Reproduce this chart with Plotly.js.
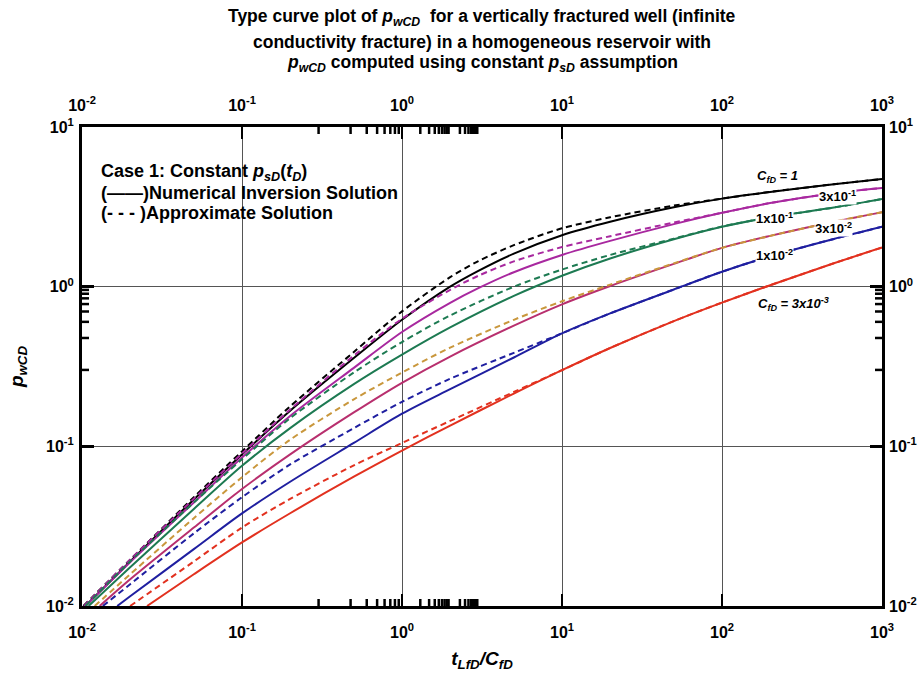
<!DOCTYPE html>
<html>
<head>
<meta charset="utf-8">
<script src="https://cdn.plot.ly/plotly-3.0.1.min.js"></script>
<style>html,body{margin:0;padding:0;background:#fff;}#chart{width:923px;height:675px;}</style>
</head>
<body>
<div id="chart"></div>
<script>
// ---- data ----
const titleLines = [
  'Type curve plot of <i>p<sub>wCD</sub></i>  for a vertically fractured well (infinite',
  'conductivity fracture) in a homogeneous reservoir with',
  '<i>p<sub>wCD</sub></i> computed using constant <i>p<sub>sD</sub></i> assumption'
];
const tickVals = [0.01, 0.1, 1, 10, 100, 1000];
const tickText = ['10<sup>-2</sup>', '10<sup>-1</sup>', '10<sup>0</sup>', '10<sup>1</sup>', '10<sup>2</sup>', '10<sup>3</sup>'];
const yTickVals = [0.01, 0.1, 1, 10];
const yTickText = ['10<sup>-2</sup>', '10<sup>-1</sup>', '10<sup>0</sup>', '10<sup>1</sup>'];

const curveNames = ['C_fD = 1', 'C_fD = 3x10^-1', 'C_fD = 1x10^-1', 'C_fD = 3x10^-2', 'C_fD = 1x10^-2', 'C_fD = 3x10^-3'];

// numerical inversion solution (solid)
const tC1S    = [0.0105, 0.02, 0.05, 0.1, 0.2, 0.5, 1, 2, 3, 5, 10, 20, 50, 100, 200, 500, 1000];
const pC1S    = [0.01, 0.019, 0.0465, 0.089, 0.167, 0.357, 0.62, 1.0, 1.256, 1.61, 2.1, 2.55, 3.14, 3.56, 3.92, 4.38, 4.72];
const tC03S   = [0.0105, 0.02, 0.05, 0.1, 0.2, 0.5, 1, 2, 3, 5, 10, 20, 50, 100, 200, 500, 1000];
const pC03S   = [0.01, 0.0188, 0.0445, 0.085, 0.155, 0.31, 0.52, 0.792, 0.978, 1.232, 1.58, 1.935, 2.465, 2.9, 3.34, 3.85, 4.15];
const tC01S   = [0.011, 0.02, 0.05, 0.1, 0.2, 0.5, 1, 2, 5, 10, 20, 50, 100, 200, 500, 1000];
const pC01S   = [0.01, 0.0175, 0.0405, 0.0755, 0.13, 0.245, 0.375, 0.555, 0.875, 1.17, 1.5, 1.98, 2.37, 2.72, 3.13, 3.54];
const tC003S  = [0.0129, 0.02, 0.05, 0.1, 0.2, 0.5, 1, 2, 5, 10, 20, 50, 100, 200, 500, 1000];
const pC003S  = [0.01, 0.0147, 0.031, 0.054, 0.089, 0.163, 0.25, 0.365, 0.57, 0.775, 1.01, 1.39, 1.75, 2.08, 2.55, 2.93];
const tC001S  = [0.0166, 0.02, 0.05, 0.1, 0.2, 0.5, 1, 2, 5, 10, 20, 50, 100, 200, 500, 1000];
const pC001S  = [0.01, 0.0115, 0.0227, 0.038, 0.06, 0.105, 0.16, 0.228, 0.36, 0.51, 0.68, 0.96, 1.24, 1.55, 1.99, 2.37];
const tC0003S = [0.0255, 0.05, 0.1, 0.2, 0.5, 1, 2, 5, 10, 20, 50, 100, 200, 500, 1000];
const pC0003S = [0.01, 0.0158, 0.025, 0.0381, 0.0645, 0.094, 0.135, 0.214, 0.30, 0.413, 0.609, 0.795, 1.021, 1.401, 1.759];

// approximate solution (dashed)
const tC1D    = [0.0102, 0.02, 0.05, 0.1, 0.2, 0.5, 1, 2, 3, 5, 10, 20, 50, 100, 200, 500, 1000];
const pC1D    = [0.01, 0.0195, 0.048, 0.093, 0.178, 0.39, 0.70, 1.148, 1.445, 1.82, 2.32, 2.72, 3.22, 3.56, 3.92, 4.38, 4.72];
const tC03D   = [0.0103, 0.02, 0.05, 0.1, 0.2, 0.5, 1, 2, 3, 5, 10, 20, 50, 100, 200, 500, 1000];
const pC03D   = [0.01, 0.0195, 0.047, 0.09, 0.17, 0.37, 0.63, 0.955, 1.17, 1.44, 1.77, 2.07, 2.52, 2.9, 3.34, 3.85, 4.15];
const tC01D   = [0.0105, 0.02, 0.05, 0.1, 0.2, 0.5, 1, 2, 5, 10, 20, 50, 100, 200, 500, 1000];
const pC01D   = [0.01, 0.019, 0.0445, 0.083, 0.15, 0.29, 0.45, 0.66, 1.0, 1.28, 1.58, 2.0, 2.38, 2.72, 3.13, 3.54];
const tC003D  = [0.012, 0.02, 0.05, 0.1, 0.2, 0.5, 1, 2, 5, 10, 20, 50, 100, 200, 500, 1000];
const pC003D  = [0.01, 0.0158, 0.0355, 0.064, 0.11, 0.197, 0.29, 0.415, 0.62, 0.81, 1.03, 1.40, 1.75, 2.08, 2.55, 2.93];
const tC001D  = [0.0135, 0.02, 0.05, 0.1, 0.2, 0.5, 1, 2, 5, 10, 20, 50, 100, 200, 500, 1000];
const pC001D  = [0.01, 0.0137, 0.0285, 0.048, 0.077, 0.13, 0.19, 0.265, 0.385, 0.51, 0.68, 0.96, 1.24, 1.55, 1.99, 2.37];
const tC0003D = [0.02, 0.05, 0.1, 0.2, 0.5, 1, 2, 5, 10, 20, 50, 100, 200, 500, 1000];
const pC0003D = [0.01, 0.019, 0.031, 0.0468, 0.076, 0.105, 0.1442, 0.219, 0.30, 0.413, 0.609, 0.795, 1.021, 1.401, 1.759];

const solidColors  = ['#000000', '#a8289f', '#1d7a52', '#b82f6e', '#1f1fa0', '#e2311f'];
const dashedColors = ['#000000', '#a8289f', '#1d7a52', '#c9973c', '#1f1fa0', '#e2311f'];

const solidT = [tC1S, tC03S, tC01S, tC003S, tC001S, tC0003S];
const solidP = [pC1S, pC03S, pC01S, pC003S, pC001S, pC0003S];
const dashT  = [tC1D, tC03D, tC01D, tC003D, tC001D, tC0003D];
const dashP  = [pC1D, pC03D, pC01D, pC003D, pC001D, pC0003D];

const traces = [];
for (let i = 0; i < 6; i++) {
  traces.push({x: solidT[i], y: solidP[i], type: 'scatter', mode: 'lines', name: curveNames[i] + ' (numerical)',
    line: {color: solidColors[i], width: 2, shape: 'spline', smoothing: 0.8}});
}
for (let i = 0; i < 6; i++) {
  traces.push({x: dashT[i], y: dashP[i], type: 'scatter', mode: 'lines', name: curveNames[i] + ' (approximate)',
    line: {color: dashedColors[i], width: 2, dash: '6px,4px', shape: 'spline', smoothing: 0.8}});
}
// invisible trace carrying the mirrored (top / right) labelled axes
traces.push({x: [0.01, 1000], y: [0.01, 10], xaxis: 'x2', yaxis: 'y2', type: 'scatter', mode: 'none', hoverinfo: 'skip', showlegend: false});

const F = 'Arial, "Liberation Sans", sans-serif';
const tickFont = {family: F, size: 16, color: '#000', weight: 'bold'};

function axisBase(range, vals, text) {
  return {
    type: 'log', range: range, tickmode: 'array', tickvals: vals, ticktext: text,
    ticks: 'inside', ticklen: 12, tickwidth: 2.5, tickcolor: '#000',
    showline: true, linewidth: 3, linecolor: '#000',
    tickfont: tickFont, zeroline: false
  };
}

// minor ticks (2..9 of every decade) on all four sides, drawn as short inward strokes
const PLOT_W = 800, PLOT_H = 479, MINOR_LEN = 7;
const shapes = [];
function addMinor(axis, lo, hi) {
  for (let e = lo; e < hi; e++) {
    for (let m = 2; m <= 9; m++) {
      const lv = Math.log10(m) + e;
      const ln = {color: '#000', width: 2.5};
      if (axis === 'x') {
        shapes.push({type: 'line', layer: 'above', xref: 'x', yref: 'paper', x0: lv, x1: lv, y0: 0, y1: MINOR_LEN / PLOT_H, line: ln});
        shapes.push({type: 'line', layer: 'above', xref: 'x', yref: 'paper', x0: lv, x1: lv, y0: 1, y1: 1 - MINOR_LEN / PLOT_H, line: ln});
      } else {
        shapes.push({type: 'line', layer: 'above', xref: 'paper', yref: 'y', y0: lv, y1: lv, x0: 0, x1: MINOR_LEN / PLOT_W, line: ln});
        shapes.push({type: 'line', layer: 'above', xref: 'paper', yref: 'y', y0: lv, y1: lv, x0: 1, x1: 1 - MINOR_LEN / PLOT_W, line: ln});
      }
    }
  }
}
addMinor('x', -2, 3);
addMinor('y', -2, 1);

const annFont = {family: F, size: 13, color: '#000', weight: 'bold'};
const legFont = {family: F, size: 18, color: '#000', weight: 'bold'};
const titleFont = {family: F, size: 17.5, color: '#000', weight: 'bold'};
const axTitleFont = {family: F, size: 19, color: '#000'};

const titleY = [1.2276, 1.1775, 1.1336];
const titleAnns = titleLines.map((s, i) => ({
  xref: 'paper', yref: 'paper', x: 0.5, y: titleY[i], xanchor: 'center', yanchor: 'middle',
  showarrow: false, text: '<b>' + s + '</b>', font: titleFont
}));

const layout = {
  width: 923, height: 675,
  margin: {l: 82, r: 41, t: 127, b: 69},
  paper_bgcolor: '#fff', plot_bgcolor: '#fff',
  showlegend: false, hovermode: false,
  shapes: shapes,
  xaxis: Object.assign(axisBase([-2, 3], tickVals, tickText), {
    showgrid: true, gridcolor: '#555', gridwidth: 1, mirror: true, ticklabelstandoff: 10,
    title: {text: '<b><i>t<sub>LfD</sub>/C<sub>fD</sub></i></b>', font: axTitleFont, standoff: 12}
  }),
  yaxis: Object.assign(axisBase([-2, 1], yTickVals, yTickText), {
    showgrid: true, gridcolor: '#555', gridwidth: 1, mirror: true, ticklabelstandoff: 2,
    title: {text: '<b><i>p<sub>wCD</sub></i></b>', font: axTitleFont, standoff: 18}
  }),
  xaxis2: Object.assign(axisBase([-2, 3], tickVals, tickText), {overlaying: 'x', side: 'top', anchor: 'y2', showgrid: false, showline: false, ticklabelstandoff: 12}),
  yaxis2: Object.assign(axisBase([-2, 1], yTickVals, yTickText), {overlaying: 'y', side: 'right', anchor: 'x2', showgrid: false, showline: false, ticklabelstandoff: 6}),
  annotations: titleAnns.concat([
    {xref: 'paper', yref: 'paper', x: 0.0215, y: 0.906, xanchor: 'left', yanchor: 'middle', showarrow: false,
     text: '<b>Case 1: Constant <i>p<sub>sD</sub></i>(<i>t<sub>D</sub></i>)</b>', font: legFont},
    {xref: 'paper', yref: 'paper', x: 0.0215, y: 0.862, xanchor: 'left', yanchor: 'middle', showarrow: false,
     text: '<b>(——)Numerical Inversion Solution</b>', font: legFont},
    {xref: 'paper', yref: 'paper', x: 0.0215, y: 0.820, xanchor: 'left', yanchor: 'middle', showarrow: false,
     text: '<b>(- - - )Approximate Solution</b>', font: legFont},
    {x: 2.344, y: 0.687, showarrow: false, text: '<b><i>C<sub>fD</sub> = 1</i></b>', font: annFont},
    {x: 2.719, y: 0.568, showarrow: false, text: '<b>3x10<sup>-1</sup></b>', font: annFont, bgcolor: '#fff', borderpad: 0},
    {x: 2.331, y: 0.430, showarrow: false, text: '<b>1x10<sup>-1</sup></b>', font: annFont, bgcolor: '#fff', borderpad: 0},
    {x: 2.694, y: 0.368, showarrow: false, text: '<b>3x10<sup>-2</sup></b>', font: annFont, bgcolor: '#fff', borderpad: 0},
    {x: 2.331, y: 0.198, showarrow: false, text: '<b>1x10<sup>-2</sup></b>', font: annFont, bgcolor: '#fff', borderpad: 0},
    {x: 2.444, y: -0.108, showarrow: false, text: '<b><i>C<sub>fD</sub> = 3x10<sup>-3</sup></i></b>', font: annFont}
  ])
};

Plotly.newPlot('chart', traces, layout, {displayModeBar: false, staticPlot: true});
</script>
</body>
</html>
